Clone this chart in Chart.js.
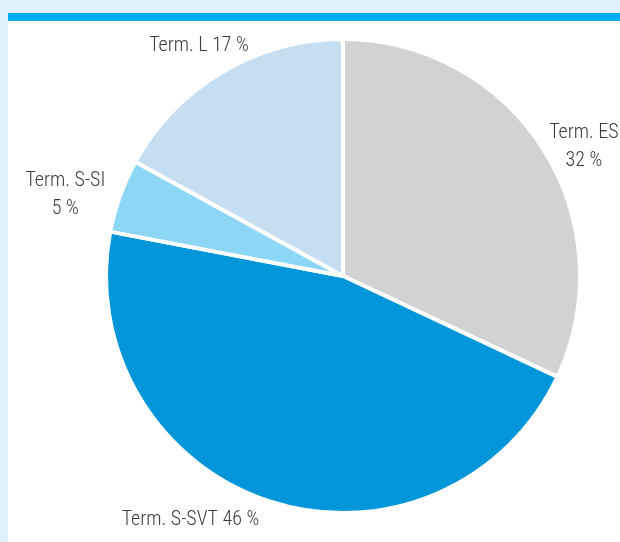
<!DOCTYPE html>
<html>
<head>
<meta charset="utf-8">
<script src="https://cdn.jsdelivr.net/npm/chart.js@4.4.0/dist/chart.umd.min.js"></script>
<style>
  html, body { margin: 0; padding: 0; }
  body { width: 620px; height: 542px; background: #e0f3fb; position: relative; overflow: hidden; }
  #bar { position: absolute; left: 8px; top: 13px; width: 612px; height: 8px; background: #00aeef; }
  #panel { position: absolute; left: 8px; top: 21px; width: 612px; height: 521px; background: #ffffff; }
</style>
</head>
<body>
<div id="bar"></div>
<div id="panel"><canvas id="pie" width="612" height="521"></canvas></div>
<script>
// Data
const labels = ['Term. ES', 'Term. S-SVT', 'Term. S-SI', 'Term. L'];
const shares = [32, 46, 5, 17];
const colors = ['#d1d2d4', '#0096d9', '#8dd7f6', '#c6def2'];

// label text lines per slice
const labelLines = [
    ['Term. ES', '32 %'],
    ['Term. S-SVT 46 %'],
    ['Term. S-SI', '5 %'],
    ['Term. L 17 %']
];
// small nudges from the default outside position
const nudges = [[7, 19], [-67, -19], [-17, 13], [-3, 8]];

const outsideLabels = {
    id: 'outsideLabels',
    afterDraw(chart) {
        const ctx = chart.ctx;
        const arcs = chart.getDatasetMeta(0).data;
        ctx.save();
        ctx.font = '300 20px "Roboto Condensed", "Liberation Sans Narrow", "DejaVu Sans Condensed", Roboto, sans-serif';
        ctx.fillStyle = '#3c3c3c';
        ctx.textAlign = 'center';
        ctx.textBaseline = 'middle';
        arcs.forEach((arc, i) => {
            const p = arc.getProps(['x', 'y', 'startAngle', 'endAngle', 'outerRadius'], true);
            const mid = (p.startAngle + p.endAngle) / 2;
            const r = p.outerRadius + 40;
            const x = p.x + Math.cos(mid) * r + nudges[i][0];
            const y = p.y + Math.sin(mid) * r + nudges[i][1];
            const lines = labelLines[i];
            const lh = 28;
            lines.forEach((t, k) => {
                ctx.fillText(t, x, y + (k - (lines.length - 1) / 2) * lh);
            });
        });
        ctx.restore();
    }
};

new Chart(document.getElementById('pie'), {
    type: 'pie',
    data: {
        labels: labels,
        datasets: [{
            data: shares,
            backgroundColor: colors,
            borderColor: '#ffffff',
            borderWidth: 4
        }]
    },
    options: {
        responsive: false,
        animation: false,
        rotation: 0,
        layout: { padding: { left: 96, right: 38, top: 16, bottom: 27 } },
        plugins: {
            legend: { display: false },
            tooltip: { enabled: false }
        }
    },
    plugins: [outsideLabels]
});
</script>
</body>
</html>
